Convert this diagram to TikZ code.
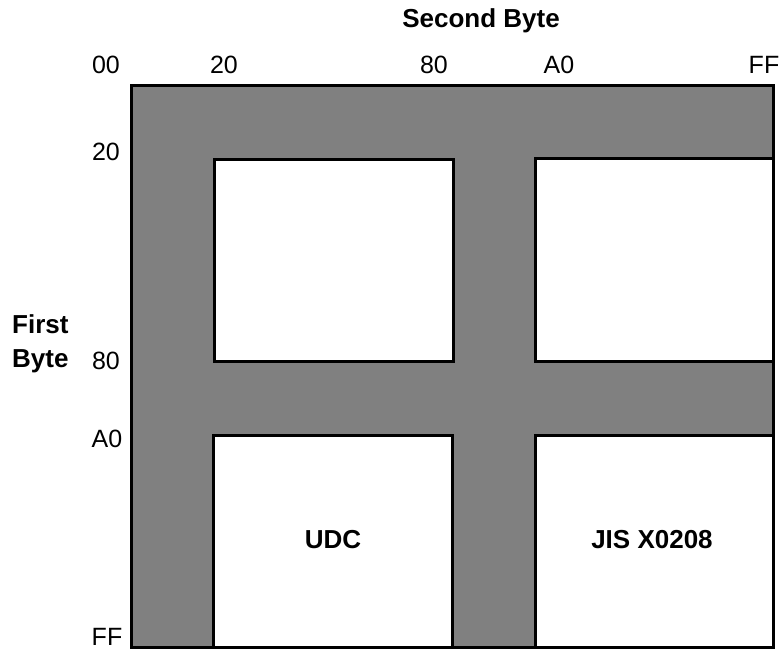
\documentclass[tikz,border=0pt]{standalone}
\usepackage{fontspec}
\setmainfont{Liberation Sans}
\begin{document}
\begin{tikzpicture}[x=1pt,y=-1pt,
  graybg/.style={fill=fillgray,draw=black,line width=3pt},
  cell/.style={fill=white,draw=black,line width=3pt},
  num/.style={font=\fontsize{25}{28}\selectfont,inner sep=0pt,anchor=base},
  lbl/.style={font=\fontsize{26}{30}\selectfont\bfseries,inner sep=0pt,anchor=base}]
\definecolor{fillgray}{RGB}{128,128,128}
\useasboundingbox (0,0) rectangle (780,649);
% gray background region
\draw[graybg] (131.5,85) rectangle (773.5,647);
% white cells
\draw[cell] (214,159) rectangle (453,361);
\draw[cell] (535,158) rectangle (773.5,361);
\draw[cell] (213,435) rectangle (452,647);
\draw[cell] (535,435) rectangle (773.5,647);
% headings
\node[lbl] (second) at (481,27) {Second Byte};
\node[lbl,anchor=base west] (first1) at (12,333) {First};
\node[lbl,anchor=base west] (first2) at (12,367) {Byte};
% top scale
\node[num] (t00) at (106,73) {00};
\node[num] (t20) at (224,73) {20};
\node[num] (t80) at (434,73) {80};
\node[num] (tA0) at (559,73) {A0};
\node[num] (tFF) at (764,73) {FF};
% left scale
\node[num] (l20) at (106,160) {20};
\node[num] (l80) at (106,369) {80};
\node[num] (lA0) at (107,447) {A0};
\node[num] (lFF) at (107,645) {FF};
% cell labels
\node[lbl] (udc) at (333,548) {UDC};
\node[lbl] (jis) at (652,548) {JIS X0208};
\end{tikzpicture}
\end{document}
